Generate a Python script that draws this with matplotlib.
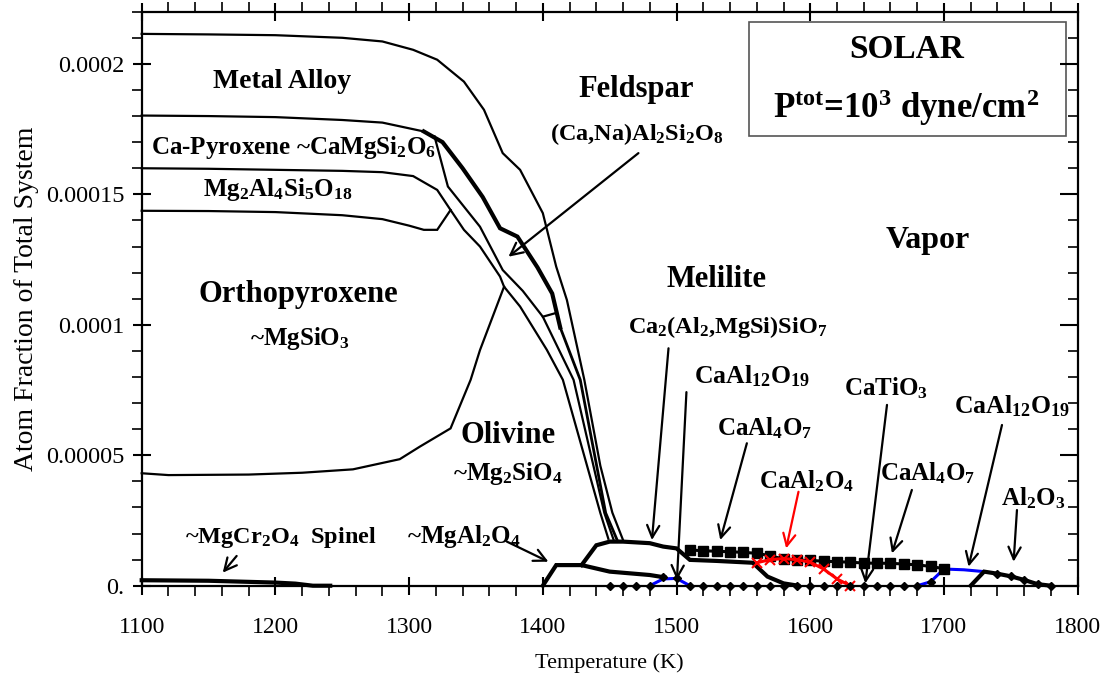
import numpy as np
import matplotlib.pyplot as plt
from matplotlib.patches import Rectangle
from matplotlib.ticker import MultipleLocator, FuncFormatter

plt.rcParams['font.family'] = ['Liberation Serif', 'DejaVu Serif']
plt.rcParams['mathtext.default'] = 'regular'

E = 1e-5  # values below are in units of 1e-5

# phase boundaries (temperature K, cumulative atom fraction / 1e-5)
alloy_top_T = [1100, 1150, 1200, 1250, 1280, 1303, 1321, 1341, 1356, 1370, 1383, 1400, 1410, 1418, 1431, 1443, 1452, 1460]
alloy_top_v = [21.15, 21.13, 21.10, 21.00, 20.86, 20.54, 20.16, 19.32, 18.24, 16.58, 15.94, 14.28, 12.23, 10.95, 7.9, 4.6, 2.8, 1.75]

alloy_bot_T = [1100, 1150, 1200, 1250, 1280, 1311]
alloy_bot_v = [18.02, 18.0, 17.96, 17.85, 17.75, 17.41]

thick_T = [1311, 1325, 1340, 1355, 1368, 1381, 1396, 1407, 1413]
thick_v = [17.41, 17.0, 16.0, 14.9, 13.7, 13.38, 12.2, 11.2, 9.9]
steep_T = [1413, 1428, 1447, 1456]
steep_v = [9.9, 7.89, 2.79, 1.7]

fsp_T = [1319, 1329, 1353, 1370, 1385, 1400, 1423, 1446, 1453]
fsp_v = [17.22, 15.3, 13.76, 12.1, 11.3, 10.31, 7.89, 2.79, 1.75]
fsp_spur_T = [1400, 1409]
fsp_spur_v = [10.31, 10.44]

cpx_bot_T = [1100, 1150, 1200, 1250, 1280, 1303, 1321, 1331, 1341, 1353, 1368, 1371, 1383, 1403, 1415, 1443, 1449]
cpx_bot_v = [16.0, 15.98, 15.94, 15.9, 15.85, 15.7, 15.17, 14.4, 13.64, 13.0, 11.85, 11.46, 10.7, 9.04, 7.89, 2.79, 1.8]

opx_top_T = [1100, 1150, 1200, 1250, 1280, 1300, 1311, 1321, 1331]
opx_top_v = [14.37, 14.36, 14.32, 14.2, 14.05, 13.8, 13.64, 13.64, 14.4]

ol_top_T = [1100, 1120, 1180, 1220, 1258, 1293, 1308, 1331, 1346, 1353, 1371]
ol_top_v = [4.31, 4.24, 4.26, 4.33, 4.46, 4.85, 5.33, 6.03, 7.89, 9.03, 11.46]

mgcr_T = [1100, 1150, 1200, 1215, 1228, 1241]
mgcr_v = [0.21, 0.19, 0.12, 0.08, 0.0, 0.0]

mgal_T = [1400, 1410, 1429, 1450, 1480, 1491]
mgal_v = [0.0, 0.79, 0.79, 0.54, 0.41, 0.32]

mel_T = [1429, 1440, 1450, 1460, 1480, 1490, 1500, 1510, 1530, 1557, 1568, 1580, 1591]
mel_v = [0.79, 1.55, 1.69, 1.69, 1.63, 1.5, 1.43, 0.99, 0.95, 0.88, 0.35, 0.09, 0.0]

hib_T = [1510, 1520, 1530, 1540, 1550, 1560, 1570, 1580, 1590, 1600, 1610, 1620, 1630, 1640, 1650, 1660, 1670, 1680, 1690, 1700]
hib_v = [1.37, 1.34, 1.32, 1.30, 1.28, 1.24, 1.15, 1.02, 0.98, 0.97, 0.94, 0.92, 0.90, 0.87, 0.86, 0.86, 0.83, 0.80, 0.74, 0.65]

cal_T = [1560, 1570, 1580, 1590, 1600, 1610, 1620, 1630]
cal_v = [0.88, 1.0, 1.04, 1.0, 0.9, 0.64, 0.26, 0.0]

blue1_T = [1480, 1490, 1500, 1510]
blue1_v = [0.0, 0.26, 0.28, 0.0]
blue2_T = [1680, 1690, 1700, 1715, 1730]
blue2_v = [0.0, 0.15, 0.64, 0.61, 0.54]

cor_T = [1720, 1730, 1740, 1750, 1760, 1770, 1780]
cor_v = [0.0, 0.54, 0.46, 0.36, 0.22, 0.06, 0.0]

dia_T = [1450, 1460, 1470, 1480, 1490, 1500, 1510, 1520, 1530, 1540, 1550, 1560, 1570, 1580, 1590,
         1600, 1610, 1620, 1630, 1640, 1650, 1660, 1670, 1680, 1690, 1740, 1750, 1760, 1770, 1780]
dia_v = [0, 0, 0, 0, 0.32, 0.28, 0, 0, 0, 0, 0, 0, 0, 0, 0,
         0, 0, 0, 0, 0, 0, 0, 0, 0, 0.15, 0.46, 0.36, 0.22, 0.06, 0]

fig = plt.figure(figsize=(11.07, 6.73), dpi=100)
ax = fig.add_axes([0.128, 0.1297, 0.8455, 0.8529])

thin = 1.6
thick = 3.0

def line(T, v, **kw):
    ax.plot(T, np.array(v) * E, solid_joinstyle='miter', clip_on=False, **kw)

line(alloy_top_T, alloy_top_v, color='k', lw=thin)
line(alloy_bot_T, alloy_bot_v, color='k', lw=thin)
line(thick_T, thick_v, color='k', lw=thick)
line(steep_T, steep_v, color='k', lw=2.0)
line(fsp_T, fsp_v, color='k', lw=thin)
line(fsp_spur_T, fsp_spur_v, color='k', lw=thin)
line(cpx_bot_T, cpx_bot_v, color='k', lw=thin)
line(opx_top_T, opx_top_v, color='k', lw=thin)
line(ol_top_T, ol_top_v, color='k', lw=thin)
line(mgcr_T, mgcr_v, color='k', lw=thick)
line(mgal_T, mgal_v, color='k', lw=thick)
line(mel_T, mel_v, color='k', lw=thick)
line(blue1_T, blue1_v, color='#0000ff', lw=2.2)
line(blue2_T, blue2_v, color='#0000ff', lw=2.2)
line(cor_T, cor_v, color='k', lw=thick)
line(hib_T, hib_v, color='k', lw=2.2, marker='s', ms=6.5)
line(cal_T, cal_v, color='#ff0000', lw=2.2, marker='x', ms=7, mew=1.5)
ax.plot(dia_T, np.array(dia_v) * E, ls='none', color='k', marker='D', ms=4, clip_on=False)

ax.set_xlim(1100, 1800)
ax.set_ylim(0, 22 * E)
ax.xaxis.set_major_locator(MultipleLocator(100))
ax.xaxis.set_minor_locator(MultipleLocator(20))
ax.yaxis.set_major_locator(MultipleLocator(5 * E))
ax.yaxis.set_minor_locator(MultipleLocator(1 * E))

ylabels = {0: '0.', 1: '0.00005', 2: '0.0001', 3: '0.00015', 4: '0.0002'}
ax.yaxis.set_major_formatter(FuncFormatter(lambda y, p: ylabels.get(int(round(y / (5 * E))), '')))

for s in ax.spines.values():
    s.set_linewidth(1.6)
ax.tick_params(axis='x', which='major', direction='inout', length=13, width=1.5,
               top=True, labelsize=17, pad=16)
ax.tick_params(axis='x', which='minor', direction='out', length=7, width=1.2, top=True)
ax.tick_params(axis='y', which='major', direction='inout', length=13, width=1.5,
               labelsize=17.5, pad=6)
ax.tick_params(axis='y', which='minor', direction='out', length=7, width=1.2)

ax2 = ax.twinx()
ax2.set_ylim(0, 22 * E)
ax2.yaxis.set_major_locator(MultipleLocator(5 * E))
ax2.yaxis.set_minor_locator(MultipleLocator(1 * E))
ax2.tick_params(axis='y', which='major', direction='in', length=13, width=1.5, labelright=False)
ax2.tick_params(axis='y', which='minor', direction='in', length=7, width=1.2)
for s in ax2.spines.values():
    s.set_visible(False)

ax.set_xlabel('Temperature (K)', fontsize=16, labelpad=11)
ax.set_ylabel('Atom Fraction of Total System', fontsize=20, labelpad=5)

def lab(T, v, s, size=18, ha='center'):
    ax.text(T, v * E, s, fontsize=size, fontweight='bold', ha=ha, va='baseline')

lab(1205, 19.07, 'Metal Alloy', 20)
lab(1107, 16.54, 'Ca-Pyroxene ~CaMgSi$_2$O$_6$', 18, ha='left')
lab(1202, 14.94, 'Mg$_2$Al$_4$Si$_5$O$_{18}$', 18)
lab(1217, 10.88, 'Orthopyroxene', 22)
lab(1218, 9.23, '~MgSiO$_3$', 18)
lab(1374, 5.46, 'Olivine', 22)
lab(1374, 4.05, '~Mg$_2$SiO$_4$', 18)
lab(1470, 18.75, 'Feldspar', 22)
lab(1470, 17.09, '(Ca,Na)Al$_2$Si$_2$O$_8$', 17.5)
lab(1530, 11.46, 'Melilite', 22)
lab(1538, 9.68, 'Ca$_2$(Al$_2$,MgSi)SiO$_7$', 17.5)
lab(1688, 12.94, 'Vapor', 23)
lab(1556, 7.77, 'CaAl$_{12}$O$_{19}$', 18.5)
lab(1657, 7.31, 'CaTiO$_3$', 18)
lab(1566, 5.78, 'CaAl$_4$O$_7$', 18)
lab(1597, 3.73, 'CaAl$_2$O$_4$', 18)
lab(1688, 4.05, 'CaAl$_4$O$_7$', 18)
lab(1751, 6.61, 'CaAl$_{12}$O$_{19}$', 18.5)
lab(1767, 3.09, 'Al$_2$O$_3$', 18)
lab(1204, 1.63, '~MgCr$_2$O$_4$  Spinel', 17.5)
lab(1341, 1.63, '~MgAl$_2$O$_4$', 18)

# title box
ax.add_patch(Rectangle((1554, 17.24 * E), 1791 - 1554, (21.62 - 17.24) * E,
                       fill=False, ec='#555555', lw=1.2))
lab(1672, 20.22, 'SOLAR', 24)
lab(1672, 17.92, 'P$^{tot}$=10$^3$ dyne/cm$^2$', 25)

# arrows: (start T, start v, end T, end v, colour)
arrows = [
    (1471.5, 16.58, 1374.3, 12.61, 'k'),
    (1494.0, 9.10, 1481.6, 1.75, 'k'),
    (1507.4, 7.42, 1500.3, 0.22, 'k'),
    (1552.6, 5.46, 1532.7, 1.75, 'k'),
    (1591.2, 3.60, 1582.0, 1.43, '#ff0000'),
    (1657.4, 6.93, 1641.2, 0.09, 'k'),
    (1676.0, 3.67, 1661.1, 1.24, 'k'),
    (1743.4, 6.16, 1718.4, 0.73, 'k'),
    (1754.6, 2.90, 1752.1, 0.92, 'k'),
    (1373.1, 1.69, 1404.2, 0.92, 'k'),
    (1171.0, 1.14, 1160.6, 0.50, 'k'),
]
for t0, v0, t1, v1, c in arrows:
    ax.annotate('', xy=(t1, v1 * E), xytext=(t0, v0 * E),
                arrowprops=dict(arrowstyle='->', color=c, lw=1.6, mutation_scale=22,
                                shrinkA=0, shrinkB=0))

fig.savefig('out.png', dpi=100)
